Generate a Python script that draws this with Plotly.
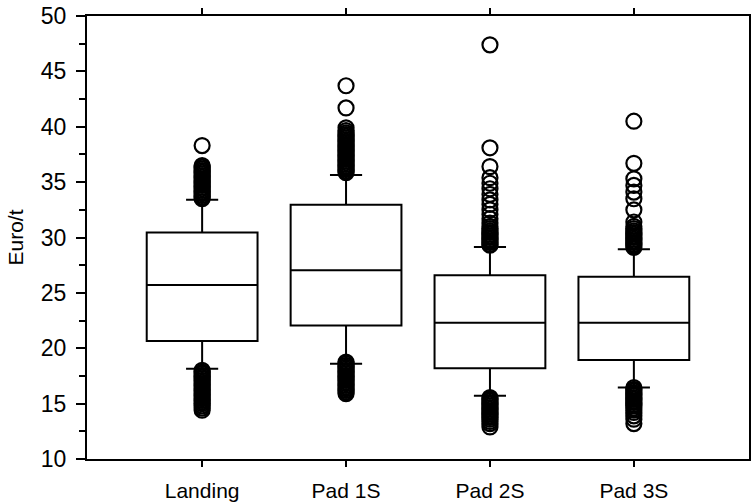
import plotly.graph_objects as go

categories = ["Landing", "Pad 1S", "Pad 2S", "Pad 3S"]
q1 = [20.65, 22.05, 18.2, 18.95]
median = [25.7, 27.05, 22.3, 22.3]
q3 = [30.45, 32.95, 26.6, 26.45]
lower_whisker = [18.15, 18.6, 15.7, 16.45]
upper_whisker = [33.4, 35.65, 29.15, 28.95]

outliers_landing = [38.3, 36.5, 36.35, 36.2, 36.05, 35.9, 35.75, 35.6, 35.45, 35.3, 35.15,
                    35.0, 34.85, 34.7, 34.55, 34.4, 34.25, 34.1, 33.95, 33.8, 33.65, 33.5,
                    18.0, 17.85, 17.7, 17.55, 17.4, 17.25, 17.1, 16.95, 16.8, 16.65, 16.5,
                    16.35, 16.2, 16.05, 15.9, 15.75, 15.6, 15.45, 15.3, 15.15, 15.0, 14.8,
                    14.6, 14.4]
outliers_pad1s = [43.7, 41.7, 39.9, 39.65, 39.45, 39.3, 39.15, 39.0, 38.85, 38.7, 38.55,
                  38.4, 38.25, 38.1, 37.95, 37.8, 37.65, 37.5, 37.35, 37.2, 37.05, 36.9,
                  36.75, 36.6, 36.45, 36.3, 36.15, 36.0, 35.85,
                  18.75, 18.6, 18.45, 18.3, 18.15, 18.0, 17.85, 17.7, 17.55, 17.4, 17.25,
                  17.1, 16.95, 16.8, 16.65, 16.5, 16.35, 16.2, 16.05, 15.9]
outliers_pad2s = [47.4, 38.1, 36.4, 35.4, 34.9, 34.4, 33.9, 33.4, 33.0, 32.5, 32.1, 31.7,
                  31.3, 31.0, 30.8, 30.6, 30.45, 30.3, 30.15, 30.0, 29.85, 29.7, 29.55,
                  29.4, 29.3,
                  15.55, 15.4, 15.25, 15.1, 14.95, 14.8, 14.65, 14.5, 14.35, 14.2, 14.05,
                  13.9, 13.75, 13.6, 13.4, 13.2, 12.9]
outliers_pad3s = [40.5, 36.7, 35.3, 34.7, 34.1, 33.5, 32.5, 31.4, 31.0, 30.8, 30.6, 30.45,
                  30.3, 30.15, 30.0, 29.85, 29.7, 29.55, 29.4, 29.25, 29.1,
                  16.45, 16.3, 16.15, 16.0, 15.85, 15.7, 15.55, 15.4, 15.25, 15.1, 14.95,
                  14.8, 14.6, 14.4, 14.2, 13.9, 13.6, 13.2]
outliers = [outliers_landing, outliers_pad1s, outliers_pad2s, outliers_pad3s]

xpos = list(range(len(categories)))

fig = go.Figure()
fig.add_trace(go.Box(
    x=xpos, q1=q1, median=median, q3=q3,
    lowerfence=lower_whisker, upperfence=upper_whisker,
    width=0.77, whiskerwidth=0.29,
    line=dict(color="black", width=2), fillcolor="white",
    boxpoints=False, showlegend=False, hoverinfo="skip",
))

ox, oy = [], []
for i, vals in enumerate(outliers):
    ox += [i] * len(vals)
    oy += vals
fig.add_trace(go.Scatter(
    x=ox, y=oy, mode="markers", showlegend=False,
    marker=dict(symbol="circle-open", size=15, color="black", line=dict(width=2.2, color="black")),
))

font_family = "Arial, Liberation Sans, sans-serif"
fig.update_layout(
    width=752, height=503,
    margin=dict(l=87, r=1, t=16, b=43),
    plot_bgcolor="white", paper_bgcolor="white",
    font=dict(family=font_family, color="black"),
    xaxis=dict(
        range=[-0.8, 3.8], tickvals=xpos, ticktext=categories,
        showline=True, linecolor="black", linewidth=2, mirror="ticks",
        ticks="outside", ticklen=6, tickwidth=2, tickcolor="black",
        showgrid=False, zeroline=False, tickfont=dict(size=21),
        ticklabelstandoff=6,
    ),
    yaxis=dict(
        range=[10, 50], tick0=10, dtick=5,
        showline=True, linecolor="black", linewidth=2, mirror=True,
        ticks="outside", ticklen=9, tickwidth=2, tickcolor="black",
        minor=dict(ticks="outside", ticklen=6, tickwidth=2, tickcolor="black", dtick=2.5, tick0=10),
        showgrid=False, zeroline=False, tickfont=dict(size=23),
        ticklabelstandoff=5,
        title=dict(text="Euro/t", font=dict(size=21), standoff=11),
    ),
)
fig.write_html("out.html")
